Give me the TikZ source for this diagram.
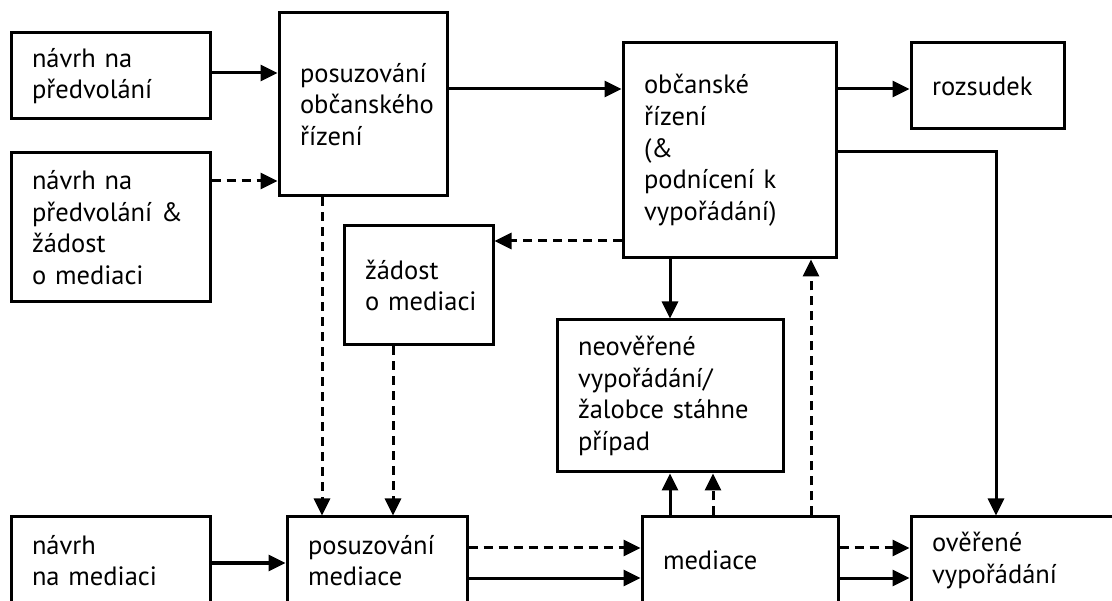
\documentclass[tikz,border=0pt]{standalone}
\usepackage{fontspec}
\setmainfont{PT Sans}
\usetikzlibrary{arrows.meta}
\tikzset{
  box/.style={draw, line width=3pt, inner xsep=21pt, inner ysep=0pt, align=left,
    font=\fontsize{26.5}{31.7}\selectfont, anchor=center,
    execute at begin node={\hyphenpenalty=10000\exhyphenpenalty=10000\hbadness=10000\hfuzz=100pt}},
  arr/.style={line width=3pt, -{Triangle[length=17pt,width=16pt]}},
  darr/.style={arr, dash pattern=on 9pt off 6pt},
}
\newcommand{\bx}[7]{% name, cx, cy, w, h, text
  \node[box, minimum width=#4pt, minimum height=#5pt, text width=#4pt-42pt] (#1) at (#2,#3) {#6};}
\begin{document}
\begin{tikzpicture}[x=1pt,y=-1pt]
\useasboundingbox (0,0) rectangle (1112,601);
\bx{A}{110.5}{76}{199}{86}{návrh na\\předvolání}{}
\bx{B}{110.5}{227.5}{199}{149}{návrh na\\předvolání \&\\žádost\\o mediaci}{}
\bx{C}{363}{104.5}{168}{183}{posuzování\\občanského\\řízení}{}
\bx{D}{418.5}{285.5}{149}{119}{žádost\\\mbox{o mediaci}}{}
\bx{E}{729.5}{150.5}{213}{215}{občanské\\řízení\\(\&\\podnícení k\\vypořádání)}{}
\bx{F}{987.5}{86}{153}{86}{rozsudek}{}
\bx{G}{670}{396}{226}{152}{neověřené\\vypořádání/\\žalobce stáhne\\případ}{}
\bx{H}{110.5}{560.5}{199}{87}{návrh\\na mediaci}{}
\bx{I}{377}{560.5}{180}{87}{posuzování\\mediace}{}
\bx{J}{740}{560.5}{196}{87}{mediace}{}
\bx{K}{1020.5}{560.5}{219}{87}{ověřené\\vypořádání}{}
% connectors
\draw[arr] (A.east |- 0,73) -- (C.west |- 0,73);
\draw[darr] (B.east |- 0,181) -- (C.west |- 0,181);
\draw[arr] (C.east |- 0,89) -- (E.west |- 0,89);
\draw[arr] (E.east |- 0,89) -- (F.west |- 0,89);
\draw[arr] (E.east |- 0,152) -| (996,0 |- K.north);
\draw[darr] (E.west |- 0,241) -- (D.east |- 0,241);
\draw[darr] (322,0 |- C.south) -- (322,0 |- I.north);
\draw[darr] (393,0 |- D.south) -- (393,0 |- I.north);
\draw[arr] (670,0 |- E.south) -- (670,0 |- G.north);
\draw[arr] (670,0 |- J.north) -- (670,0 |- G.south);
\draw[darr] (713,0 |- J.north) -- (713,0 |- G.south);
\draw[darr] (811,0 |- J.north) -- (811,0 |- E.south);
\draw[arr] (H.east |- 0,563) -- (I.west |- 0,563);
\draw[darr] (I.east |- 0,548) -- (J.west |- 0,548);
\draw[arr] (I.east |- 0,578) -- (J.west |- 0,578);
\draw[darr] (J.east |- 0,548) -- (K.west |- 0,548);
\draw[arr] (J.east |- 0,578) -- (K.west |- 0,578);
\end{tikzpicture}
\end{document}
